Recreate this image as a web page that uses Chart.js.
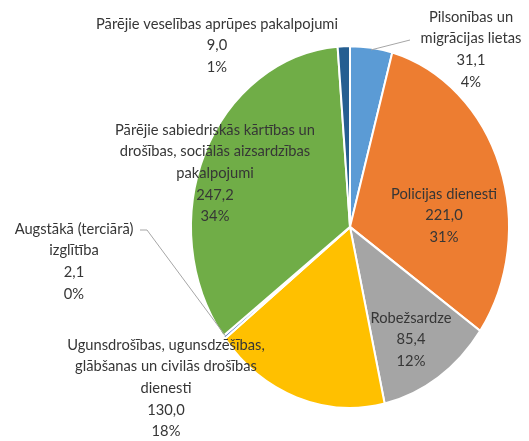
<!DOCTYPE html>
<html>
<head>
<meta charset="utf-8">
<script src="https://cdn.jsdelivr.net/npm/chart.js@4"></script>
<style>
  html, body { margin: 0; padding: 0; background: #fff; }
</style>
</head>
<body>
<canvas id="myChart" width="529" height="441"></canvas>
<script>
'use strict'
// data
let categories = [
    ['Pilsonības un', 'migrācijas lietas'],
    ['Policijas dienesti'],
    ['Robežsardze'],
    ['Ugunsdrošības, ugunsdzēšības,', 'glābšanas un civilās drošības', 'dienesti'],
    ['Augstākā (terciārā)', 'izglītība'],
    ['Pārējie sabiedriskās kārtības un', 'drošības, sociālās aizsardzības', 'pakalpojumi'],
    ['Pārējie veselības aprūpes pakalpojumi']
];
let values = [31.1, 221.0, 85.4, 130.0, 2.1, 247.2, 9.0];
let percentLabels = ['4%', '31%', '12%', '18%', '0%', '34%', '1%'];
let colors = ['#5B9BD5', '#ED7D31', '#A5A5A5', '#FFC000', '#4472C4', '#70AD47', '#255E91'];

// label layout (center x, first line y) and leader line bends
let labelPos = [[471, 17], [444, 194], [411, 318], [166, 345], [74, 229], [215, 130], [217, 24]];
let leaders = { 0: [[410, 40]], 4: [[147, 230], [140, 230]] };

let stretchY = 181 / 159;
let lineH = 21.6;
let textColor = '#363636';

function fmt(v) {
    return v.toFixed(1).replace('.', ',');
}

let ellipsePlugin = {
    id: 'ellipse',
    beforeDatasetsDraw(chart) {
        let arc = chart.getDatasetMeta(0).data[0];
        let ctx = chart.ctx;
        ctx.save();
        ctx.translate(arc.x, arc.y);
        ctx.scale(1, stretchY);
        ctx.translate(-arc.x, -arc.y);
    },
    afterDatasetsDraw(chart) {
        chart.ctx.restore();
    }
};

let labelPlugin = {
    id: 'pieLabels',
    afterDraw(chart) {
        let ctx = chart.ctx;
        let arcs = chart.getDatasetMeta(0).data;
        ctx.save();
        // leader lines
        ctx.strokeStyle = '#A6A6A6';
        ctx.lineWidth = 1;
        for (let i in leaders) {
            let a = arcs[i];
            let mid = (a.startAngle + a.endAngle) / 2;
            let r = a.outerRadius - 2;
            ctx.beginPath();
            ctx.moveTo(a.x + Math.cos(mid) * r, a.y + Math.sin(mid) * r * stretchY);
            leaders[i].forEach(function (p) { ctx.lineTo(p[0], p[1]); });
            ctx.stroke();
        }
        ctx.fillStyle = textColor;
        ctx.font = '14.7px Lato';
        ctx.textAlign = 'center';
        ctx.textBaseline = 'middle';
        for (let i = 0; i < values.length; i++) {
            let lines = categories[i].concat([fmt(values[i]), percentLabels[i]]);
            let x = labelPos[i][0];
            let y = labelPos[i][1];
            lines.forEach(function (t, k) {
                ctx.fillText(t, x, y + k * lineH);
            });
        }
        ctx.restore();
    }
};

let ctx = document.getElementById('myChart').getContext('2d');
let myChart = new Chart(ctx, {
    type: 'pie',
    data: {
        labels: categories,
        datasets: [{
            data: values,
            backgroundColor: colors,
            borderColor: '#ffffff',
            borderWidth: 2,
            clip: false
        }]
    },
    options: {
        responsive: false,
        animation: false,
        radius: 159,
        layout: { padding: { left: 191, right: 20, top: 68, bottom: 55 } },
        plugins: {
            legend: { display: false },
            tooltip: { enabled: false }
        }
    },
    plugins: [ellipsePlugin, labelPlugin]
});
</script>
</body>
</html>
